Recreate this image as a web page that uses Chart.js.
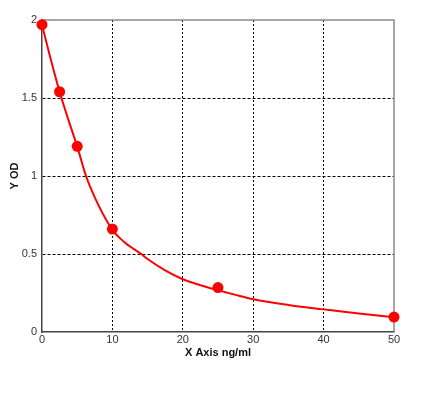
<!DOCTYPE html>
<html><head><meta charset="utf-8">
<script src="https://cdn.jsdelivr.net/npm/chart.js@4"></script>
<style>html,body{margin:0;padding:0;background:#fff}#wrap{width:431px;height:399px;position:relative}</style>
</head><body><div id="wrap"><canvas id="c"></canvas></div>
<script>
const xTicks = [0, 10, 20, 30, 40, 50];
const yTicks = [0, 0.5, 1, 1.5, 2];
const yTickLabels = ['0', '0.5', '1', '1.5', '2'];
const pointX = [0, 2.5, 5, 10, 25, 50];
const pointY = [1.97, 1.54, 1.19, 0.66, 0.285, 0.096];
const curveX = [0, 1, 2.5, 3.75, 5, 6.25, 8, 10, 11, 12, 13, 14, 15, 17.5, 20, 22.5, 25, 27.5, 30, 35, 40, 45, 50];
const curveY = [1.97, 1.79, 1.54, 1.36, 1.19, 1.0, 0.815, 0.655, 0.605, 0.565, 0.533, 0.503, 0.468, 0.395, 0.338, 0.3, 0.268, 0.238, 0.21, 0.173, 0.145, 0.118, 0.095];
const xTitle = 'X Axis ng/ml';
const yTitle = 'Y OD';

const FONT = '"Liberation Sans", Arial, sans-serif';

const framePlugin = {
  id: 'frame',
  beforeDatasetsDraw(chart) {
    const {ctx, chartArea: a} = chart;
    ctx.save();
    ctx.strokeStyle = '#8a8a8a';
    ctx.lineWidth = 1.5;
    ctx.beginPath();
    ctx.moveTo(a.left, a.top);
    ctx.lineTo(a.right, a.top);
    ctx.lineTo(a.right, a.bottom);
    ctx.stroke();
    ctx.restore();
  }
};

const gridColor = (max) => (c) => (c.tick && (c.tick.value === 0 || c.tick.value === max)) ? 'rgba(0,0,0,0)' : '#000';

new Chart(document.getElementById('c'), {
  type: 'scatter',
  data: {
    datasets: [
      {
        data: curveX.map((x, i) => ({x, y: curveY[i]})),
        showLine: true,
        borderColor: '#ff0000',
        borderWidth: 2,
        pointRadius: 0,
        cubicInterpolationMode: 'monotone',
        clip: false
      },
      {
        data: pointX.map((x, i) => ({x, y: pointY[i]})),
        showLine: false,
        backgroundColor: '#ff0000',
        borderColor: '#ff0000',
        borderWidth: 0,
        pointRadius: 5.5,
        clip: false
      }
    ]
  },
  options: {
    responsive: true,
    maintainAspectRatio: false,
    animation: false,
    devicePixelRatio: 1,
    layout: {padding: {left: 6, top: 20, right: 37, bottom: 37}},
    plugins: {legend: {display: false}, tooltip: {enabled: false}},
    scales: {
      x: {
        type: 'linear',
        min: 0, max: 50,
        afterBuildTicks: (s) => { s.ticks = xTicks.map(v => ({value: v})); },
        afterFit: (s) => { s.height = 30; },
        grid: {color: gridColor(50), lineWidth: 1, drawTicks: false},
        border: {color: '#444', width: 1.5, dash: [2, 2]},
        ticks: {color: '#333', font: {family: FONT, size: 11}, padding: 1, maxRotation: 0},
        title: {display: true, text: xTitle, color: '#111', font: {family: FONT, size: 11, weight: 'bold'}, padding: {top: 2, bottom: 2}}
      },
      y: {
        type: 'linear',
        min: 0, max: 2,
        afterBuildTicks: (s) => { s.ticks = yTicks.map(v => ({value: v})); },
        afterFit: (s) => { s.width = 36; },
        grid: {color: gridColor(2), lineWidth: 1, drawTicks: false},
        border: {color: '#444', width: 1.5, dash: [3, 2]},
        ticks: {color: '#333', font: {family: FONT, size: 11}, padding: 5,
          callback: (v) => { const i = yTicks.indexOf(v); return i >= 0 ? yTickLabels[i] : ''; }},
        title: {display: true, text: yTitle, color: '#111', font: {family: FONT, size: 11, weight: 'bold'}, padding: {top: 2, bottom: 2}}
      }
    }
  },
  plugins: [framePlugin]
});
</script></body></html>
